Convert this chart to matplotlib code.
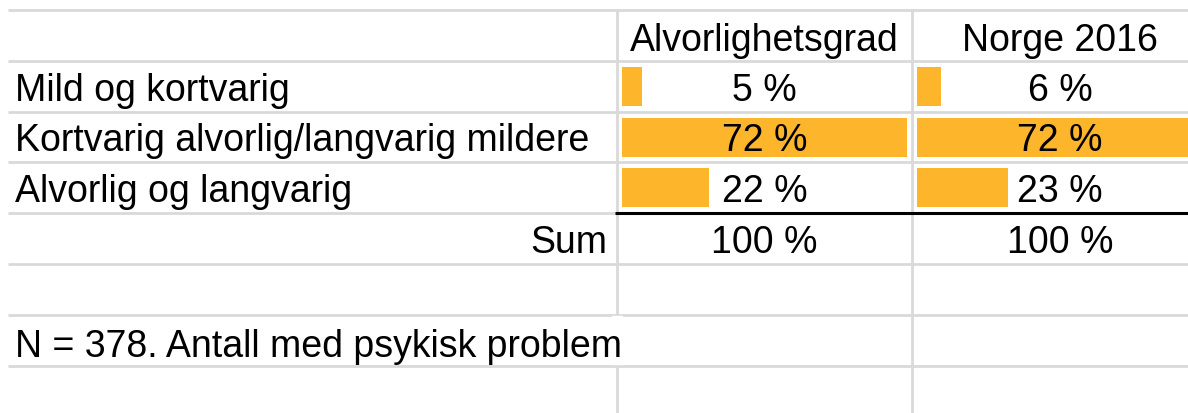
import numpy as np
import matplotlib.pyplot as plt

plt.rcParams['font.family'] = ['Liberation Sans', 'DejaVu Sans']

# data
categories = ["Mild og kortvarig", "Kortvarig alvorlig/langvarig mildere", "Alvorlig og langvarig"]
columns = ["Alvorlighetsgrad", "Norge 2016"]
alvorlighetsgrad = [5, 72, 22]
norge_2016 = [6, 72, 23]
sum_label = "Sum"
sum_values = [100, 100]
note = "N = 378. Antall med psykisk problem"

W, H = 1188, 414
grid_color = "#d9d9d9"
bar_color = "#fdb52b"
fs = 27

fig = plt.figure(figsize=(W / 100, H / 100), dpi=100)
ax = fig.add_axes([0, 0, 1, 1])
ax.set_xlim(0, W)
ax.set_ylim(H, 0)
ax.axis("off")

# sheet grid (pixel layout)
row_top = 11
row_h = 50.8
rows = [row_top + i * row_h for i in range(9)]
col_x = [617, 912, 1208]

for y in rows:
    if y < H:
        ax.plot([8, W], [y, y], color=grid_color, lw=2, solid_capstyle="butt", zorder=1)
# vertical lines (hidden where the note overflows)
note_row = 6
for x in col_x[:2]:
    ax.plot([x, x], [rows[0], H], color=grid_color, lw=2, zorder=1)
ax.fill_between([612, 622], rows[note_row] + 1.5, rows[note_row + 1] - 1.5, color="white", zorder=2)

# header
for j, name in enumerate(columns):
    cx = (col_x[j] + col_x[j + 1]) / 2
    ax.text(cx, rows[1] - 11, name, ha="center", va="baseline", fontsize=fs, zorder=5)

# data bars (scaled so the max fills the cell)
series = [alvorlighetsgrad, norge_2016]
vmax = max(max(s) for s in series)
ypos = [(rows[i + 1] + rows[i + 2]) / 2 for i in range(len(categories))]
for j, vals in enumerate(series):
    cell_w = col_x[j + 1] - col_x[j] - 10
    scale = cell_w / vmax
    ax.barh(ypos, np.array(vals) * scale, left=col_x[j] + 5, height=39,
            color=bar_color, zorder=3)
    cx = (col_x[j] + col_x[j + 1]) / 2
    for i, v in enumerate(vals):
        ax.text(cx, rows[i + 2] - 12, f"{v} %", ha="center", va="baseline",
                fontsize=fs, zorder=5)

for i, cat in enumerate(categories):
    ax.text(15, rows[i + 2] - 12, cat, ha="left", va="baseline", fontsize=fs, zorder=5)

# sum row
ax.plot([615, W], [rows[4], rows[4]], color="black", lw=2.2, solid_capstyle="butt", zorder=4)
ax.text(607, rows[5] - 12, sum_label, ha="right", va="baseline", fontsize=fs, zorder=5)
for j, v in enumerate(sum_values):
    cx = (col_x[j] + col_x[j + 1]) / 2
    ax.text(cx, rows[5] - 12, f"{v} %", ha="center", va="baseline", fontsize=fs, zorder=5)

ax.text(15, rows[note_row + 1] - 10, note, ha="left", va="baseline", fontsize=fs, zorder=5)

fig.savefig("out.png", dpi=100)
